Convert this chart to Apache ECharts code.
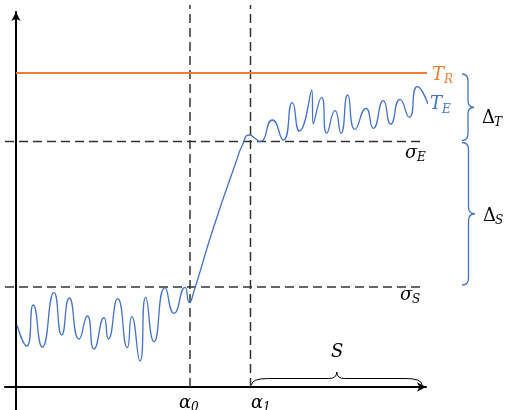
<!DOCTYPE html>
<html><head><meta charset="utf-8">
<script src="https://cdn.jsdelivr.net/npm/echarts/dist/echarts.min.js"></script>
<style>html,body{margin:0;padding:0;background:#fff}#c{width:505px;height:410px}</style>
</head><body><div id="c"></div>
<script>
// Response curve T_E (x = progress, y = value)
const teX = [1, 10.7, 17.3, 26.3, 38, 45.7, 53.3, 63, 71.3, 78, 88, 92.3, 101.7, 111.3, 115.7, 124, 129.7, 138, 149, 158, 169, 173.3,
             178, 197.3, 220.7, 226, 233.3, 239, 244, 256.3, 267.3, 276.3, 283.3, 295.7, 297.3, 305.7, 310.7, 319, 325, 331.7, 339,
             350, 357.3, 367.3, 374.7, 384, 393.3, 401.3, 412];
const teY = [62, 41, 82, 40, 94.3, 52, 89, 48, 71, 38, 69.3, 48, 88.3, 39.3, 70.3, 26, 89.7, 45.3, 99.3, 73.7, 99.7, 84.3,
             96, 158.7, 227, 241, 252, 248.7, 245.3, 267, 247, 284.3, 256, 297, 263, 289.7, 253.7, 276.3, 253.7, 292, 257.7,
             278.7, 258.7, 286.3, 263, 287.7, 269.7, 300.3, 283];
// Reference levels and positions
const TR = 314;          // T_R level
const sigmaE = 245.5;    // σ_E level
const sigmaS = 100;      // σ_S level
const alpha0 = 174;      // α0
const alpha1 = 234.5;    // α1
const xStart = -11, xEnd = 412, dashEnd = 409, sEnd = 406, vTop = 382;

const blue = '#4472C4', orange = '#ED7D31', dashCol = '#333333';
const FONT = '"DejaVu Serif", "Liberation Serif", serif';
const chart = echarts.init(document.getElementById('c'), null, {renderer: 'canvas'});

function dashed(data) {
  return {type: 'line', data: data, symbol: 'none', clip: false, silent: true, z: 1,
          lineStyle: {color: dashCol, width: 1.5, type: [9, 5]}};
}
function vBrace(x0, y1, y2, w) {
  const xs = x0 + w / 2, xt = x0 + w, m = (y1 + y2) / 2, r = 7;
  return `M${x0},${y1} Q${xs},${y1} ${xs},${y1 + r} L${xs},${m - r} Q${xs},${m} ${xt},${m} Q${xs},${m} ${xs},${m + r} L${xs},${y2 - r} Q${xs},${y2} ${x0},${y2}`;
}
function hBrace(x1, x2, yb, h) {
  const ys = yb - h / 2, yt = yb - h, m = (x1 + x2) / 2, re = 17, rm = 8;
  return `M${x1},${yb} Q${x1},${ys} ${x1 + re},${ys} L${m - rm},${ys} Q${m},${ys} ${m},${yt} Q${m},${ys} ${m + rm},${ys} L${x2 - re},${ys} Q${x2},${ys} ${x2},${yb}`;
}
function txt(t, x, y, size, color, italic, align) {
  return {type: 'text', x: x, y: y, silent: true,
    style: {text: t, fill: color, font: (italic ? 'italic ' : '') + size + 'px ' + FONT,
            align: align || 'left', verticalAlign: 'middle', textAlign: align || 'left', textVerticalAlign: 'middle'}};
}
function sym(main, sub, x, y, color, italicMain) {
  return [txt(main, x, y, 18, color, italicMain), txt(sub, x + 12, y + 5, 12, color, true)];
}

const option = {
  animation: false,
  grid: {left: 5, right: 79, top: 12, bottom: 0},
  xAxis: {type: 'value', min: -11, max: 410,
    axisLine: {onZero: true, symbol: ['none', 'arrow'], symbolSize: [7, 9], lineStyle: {color: '#000', width: 2}},
    axisTick: {show: false}, axisLabel: {show: false}, splitLine: {show: false}},
  yAxis: {type: 'value', min: -23, max: 375,
    axisLine: {onZero: true, symbol: ['none', 'arrow'], symbolSize: [7, 9], lineStyle: {color: '#000', width: 2}},
    axisTick: {show: false}, axisLabel: {show: false}, splitLine: {show: false}},
  series: [
    dashed([[xStart, sigmaE], [dashEnd, sigmaE]]),
    dashed([[xStart, sigmaS], [dashEnd, sigmaS]]),
    dashed([[alpha0, 0], [alpha0, vTop]]),
    dashed([[alpha1, 0], [alpha1, vTop]]),
    {type: 'line', name: 'T_R', data: [[0, TR], [xEnd, TR]], symbol: 'none', clip: false, silent: true, z: 3,
     lineStyle: {color: orange, width: 2}},
    {type: 'line', name: 'T_E', data: teX.map((x, i) => [x, teY[i]]), symbol: 'none', smooth: 0.6, clip: false,
     silent: true, z: 3, lineStyle: {color: blue, width: 1.3}},
    {type: 'custom', clip: false, silent: true, z: 5, data: [0],
     renderItem: function (params, api) {
       const pTR = api.coord([xEnd, TR]);
       const pTE = api.coord([teX[teX.length - 1], teY[teY.length - 1]]);
       const pE = api.coord([dashEnd, sigmaE]);
       const pS = api.coord([dashEnd, sigmaS]);
       const pA0 = api.coord([alpha0, 0]);
       const pA1 = api.coord([alpha1, 0]);
       const pSE = api.coord([sEnd, 0]);
       const bx = pTR[0] + 34;
       const kids = [
         {type: 'path', shape: {pathData: vBrace(bx, pTR[1] + 1, pE[1] - 1, 12)}, style: {stroke: blue, fill: 'none', lineWidth: 1.3}},
         {type: 'path', shape: {pathData: vBrace(bx, pE[1] + 1, pS[1] - 2, 13)}, style: {stroke: blue, fill: 'none', lineWidth: 1.3}},
         {type: 'path', shape: {pathData: hBrace(pA1[0] + 1, pSE[0], pA1[1] - 2, 13)}, style: {stroke: '#000', fill: 'none', lineWidth: 1}},
         txt('S', (pA1[0] + pSE[0]) / 2 + 1, pA1[1] - 35, 18, '#000', true, 'center')
       ]
       .concat(sym('T', 'R', pTR[0] + 4, pTR[1] + 2, orange, true))
       .concat(sym('T', 'E', pTE[0] + 2, pTE[1] + 0.5, blue, true))
       .concat(sym('σ', 'E', pE[0] - 20, pE[1] + 11.5, '#000', true))
       .concat(sym('σ', 'S', pS[0] - 25, pS[1] + 8, '#000', true))
       .concat(sym('Δ', 'T', bx + 20, (pTR[1] + pE[1]) / 2 + 11, '#000', false))
       .concat(sym('Δ', 'S', bx + 21, (pE[1] + pS[1]) / 2 + 2, '#000', false))
       .concat(sym('α', '0', pA0[0] - 11, pA0[1] + 16, '#000', true))
       .concat(sym('α', '1', pA1[0] + 0.5, pA1[1] + 16, '#000', true));
       return {type: 'group', children: kids};
     }}
  ]
};
chart.setOption(option);
</script></body></html>
